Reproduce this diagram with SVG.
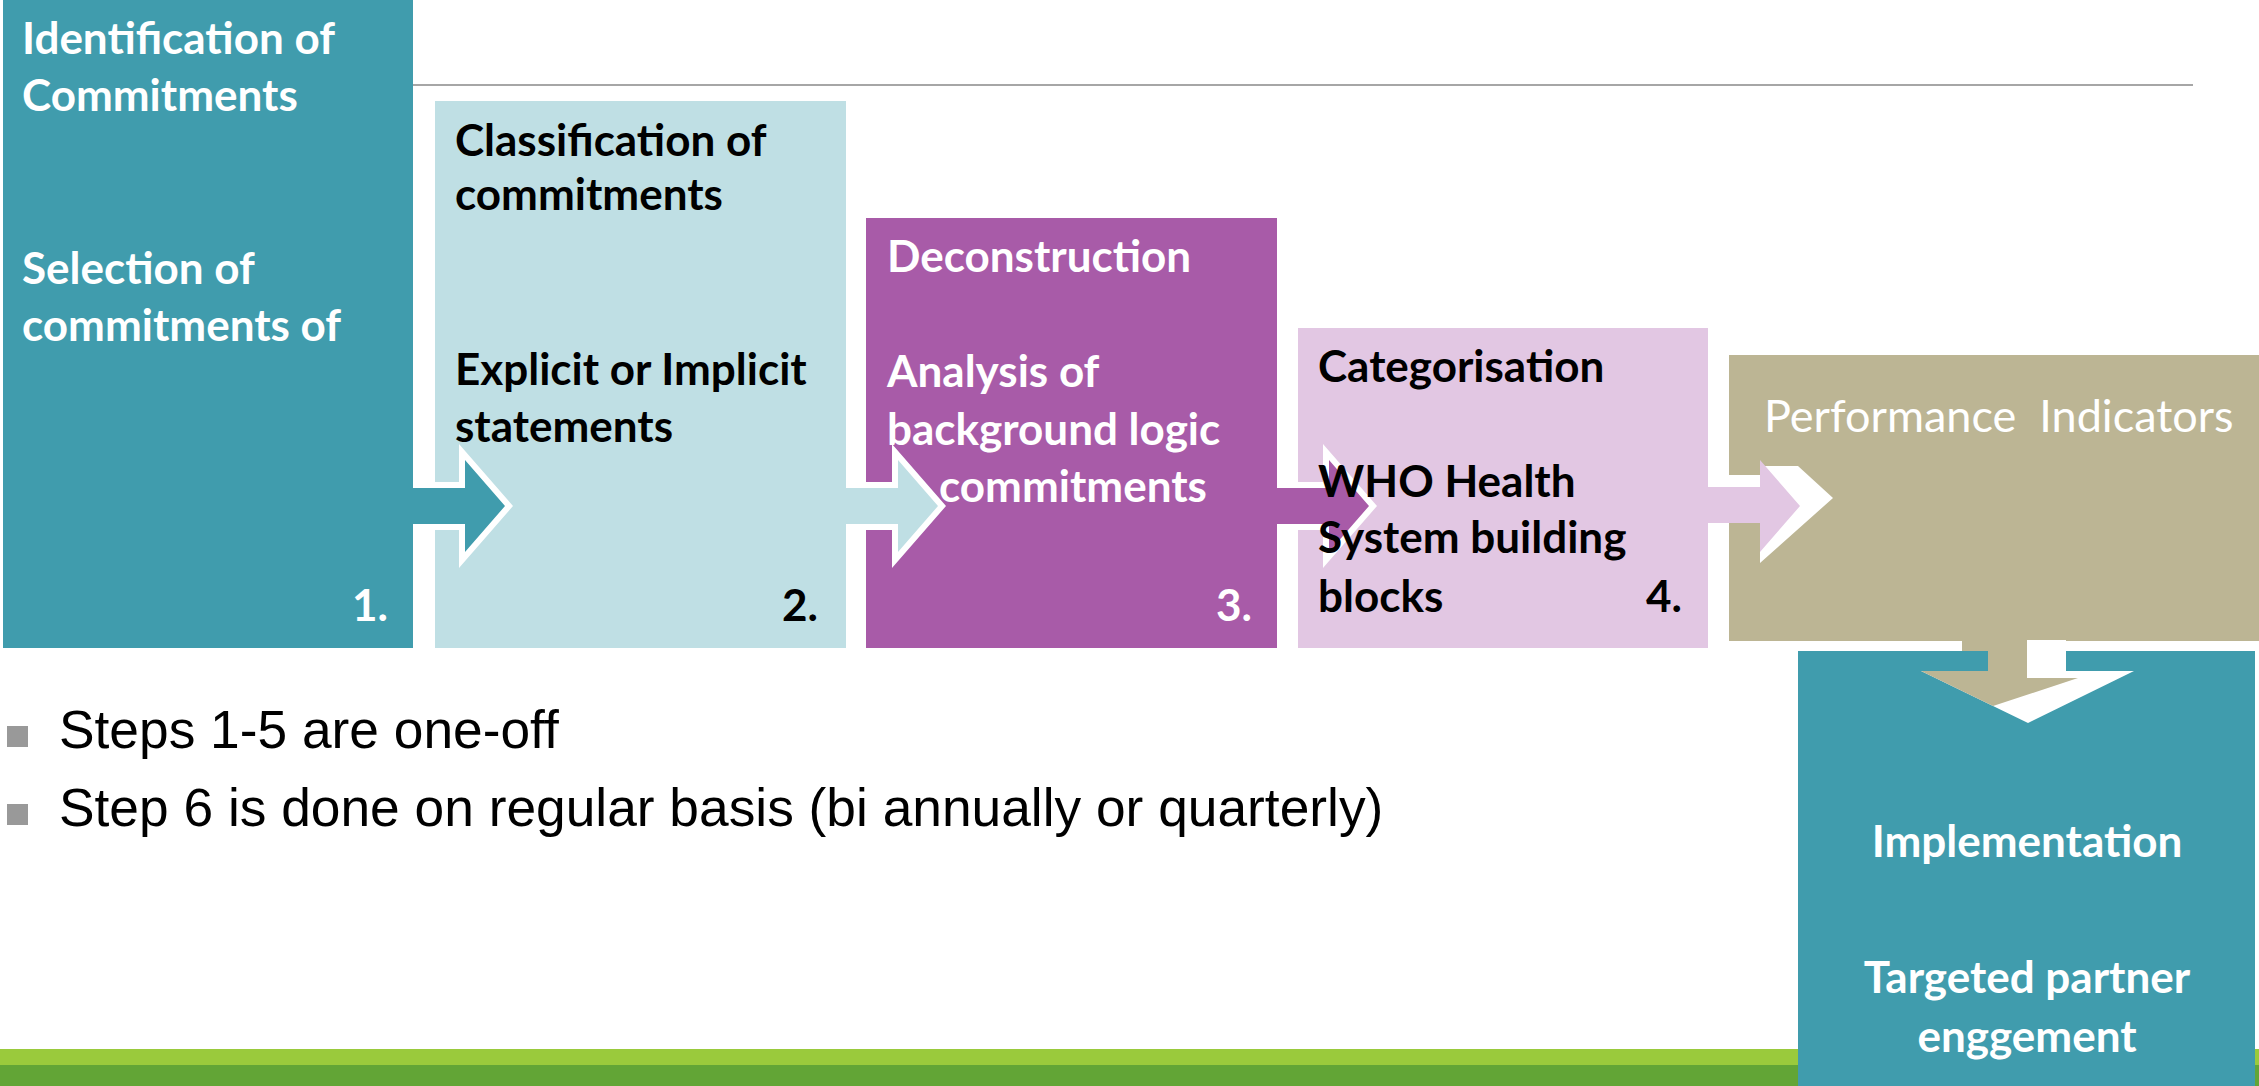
<svg xmlns="http://www.w3.org/2000/svg" width="2259" height="1086" viewBox="0 0 2259 1086">
<style>
.t{font-family:Lato,"Liberation Sans",sans-serif;font-weight:bold;font-size:44px}
.w{fill:#ffffff}
.k{fill:#000000}
.r{font-weight:normal;font-size:45px}
.b{font-family:"Liberation Sans",Arial,sans-serif;font-size:53.3px;fill:#000}
.ol{fill:#ffffff}
.bl{fill:#999999}
</style>
<rect x="0" y="0" width="2259" height="1086" fill="#ffffff"/>
<line x1="413" y1="85" x2="2193" y2="85" stroke="#a6a6a6" stroke-width="2"/>
<rect x="0" y="1049" width="2259" height="16" fill="#9aca3c"/>
<rect x="0" y="1065" width="2259" height="21" fill="#62a536"/>
<g id="step1"><rect x="3" y="0" width="410" height="648" fill="#409cad"/></g>
<g id="step2"><rect x="435" y="101" width="411" height="547" fill="#bfdfe4"/></g>
<g id="step3"><rect x="866" y="218" width="411" height="430" fill="#a85ba8"/></g>
<g id="step4"><rect x="1298" y="328" width="410" height="320" fill="#e2c7e3"/></g>
<g id="step5"><rect x="1729" y="355" width="530" height="286" fill="#bcb594"/></g>
<g id="step6"><rect x="1798" y="651" width="457" height="435" fill="#409cad"/></g>
<g id="connectors">
<polygon class="ol" points="413,482 459,482 459,444 513,506 459,568 459,530 413,530"/>
<polygon fill="#409cad" points="410,488 465,488 465,460 505,506 465,552 465,524 410,524"/>
<polygon class="ol" points="846,482 892,482 892,444 946,506 892,568 892,530 846,530"/>
<polygon fill="#bfdfe4" points="843,488 898,488 898,460 938,506 898,552 898,524 843,524"/>
<polygon class="ol" points="1277,482 1323,482 1323,444 1377,506 1323,568 1323,530 1277,530"/>
<polygon fill="#a85ba8" points="1274,488 1329,488 1329,460 1369,506 1329,552 1329,524 1274,524"/>
<polygon class="ol" points="1708,475 1760,475 1760,466 1798,466 1833,498 1760,563 1760,523 1708,523"/>
<polygon fill="#e2c7e3" points="1705,487 1760,487 1760,460 1800,506 1760,552 1760,523 1705,523"/>
<polygon class="ol" points="2027,640 2066,640 2066,671 2134,671 2028,723 1921,671 2027,671"/>
<polygon fill="#bcb594" points="1962,638 2027,638 2027,678 2078,678 1993,706 1921,671 1988,671 1988,651 1962,651"/>
</g>
<g id="labels">
<text class="t w" x="22" y="54">Identification of</text>
<text class="t w" x="22" y="111">Commitments</text>
<text class="t w" x="22" y="284">Selection of</text>
<text class="t w" x="22" y="341">commitments of</text>
<text class="t w" x="388" y="621" text-anchor="end">1.</text>
<text class="t k" x="455" y="156">Classification of</text>
<text class="t k" x="455" y="210">commitments</text>
<text class="t k" x="455" y="385">Explicit or Implicit</text>
<text class="t k" x="455" y="442">statements</text>
<text class="t k" x="818" y="621" text-anchor="end">2.</text>
<text class="t w" x="887" y="272">Deconstruction</text>
<text class="t w" x="887" y="387">Analysis of</text>
<text class="t w" x="887" y="445">background logic</text>
<text class="t w" x="939" y="502">commitments</text>
<text class="t w" x="1252" y="621" text-anchor="end">3.</text>
<text class="t k" x="1318" y="382">Categorisation</text>
<text class="t k" x="1318" y="497">WHO Health</text>
<text class="t k" x="1318" y="553">System building</text>
<text class="t k" x="1318" y="612">blocks</text>
<text class="t k" x="1682" y="612" text-anchor="end">4.</text>
<text class="t w r" x="1764" y="432" xml:space="preserve">Performance  Indicators</text>
<text class="t w" x="2027" y="857" text-anchor="middle">Implementation</text>
<text class="t w" x="2027" y="993" text-anchor="middle">Targeted partner</text>
<text class="t w" x="2027" y="1052" text-anchor="middle">enggement</text>
</g>
<g id="bullets">
<rect class="bl" x="7" y="726" width="21" height="21"/>
<rect class="bl" x="7" y="804" width="21" height="21"/>
<text class="b" x="59" y="748">Steps 1-5 are one-off</text>
<text class="b" x="59" y="826">Step 6 is done on regular basis (bi annually or quarterly)</text>
</g>
</svg>
